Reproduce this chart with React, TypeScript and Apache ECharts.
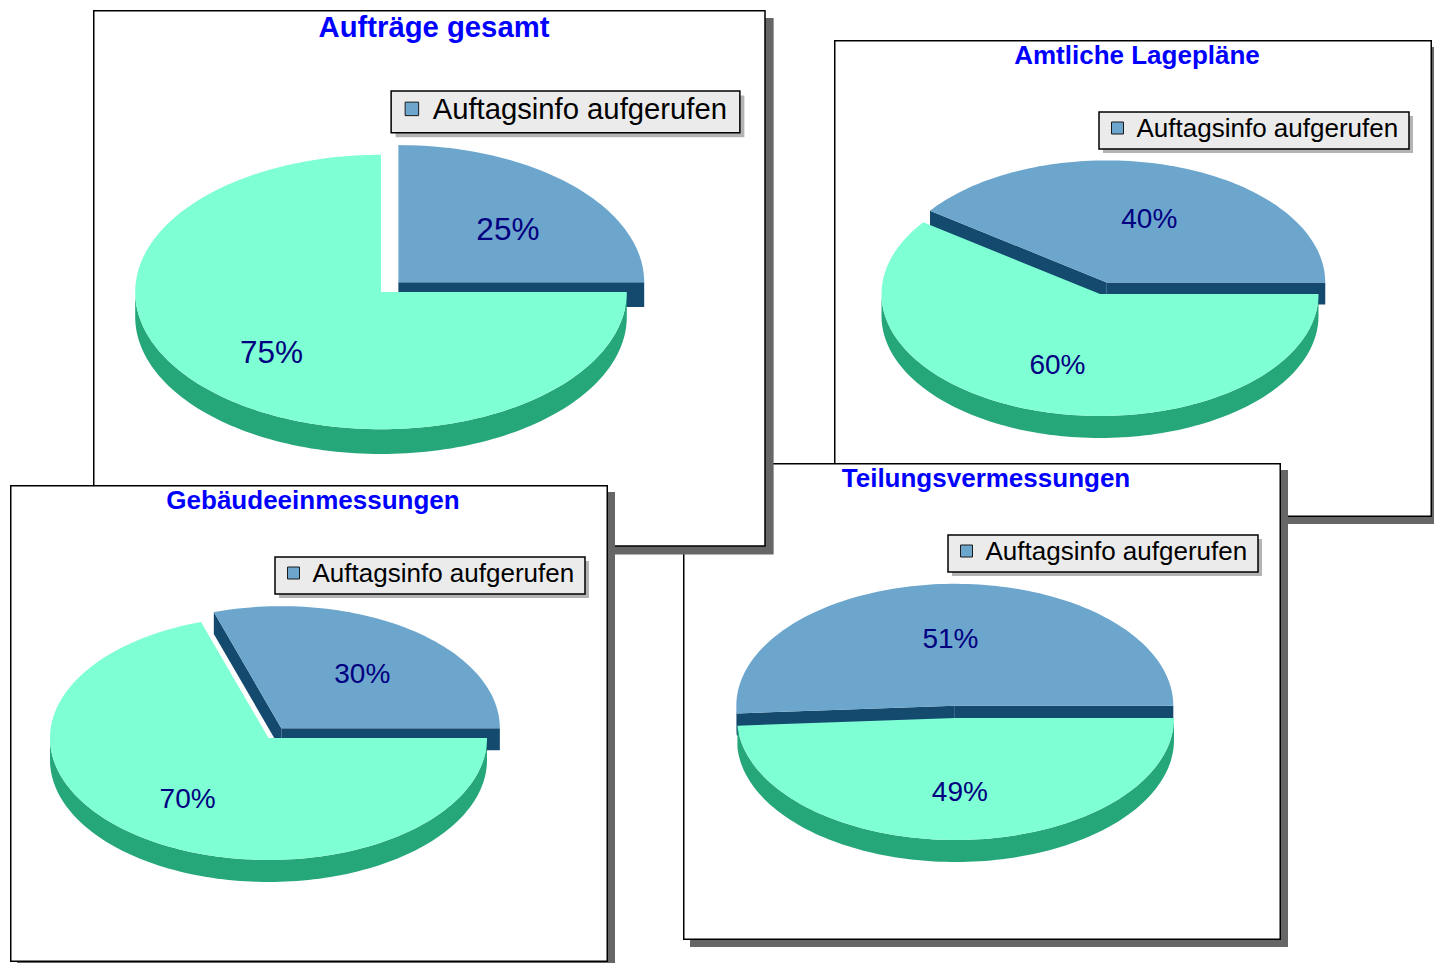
import React, { useEffect, useRef } from 'react';
import * as echarts from 'echarts';

// ---- data ----
const titles = ['Aufträge gesamt', 'Amtliche Lagepläne', 'Gebäudeeinmessungen', 'Teilungsvermessungen'];
const categories = ['Auftagsinfo aufgerufen', 'Auftagsinfo nicht aufgerufen'];
const legendLabel = 'Auftagsinfo aufgerufen';
const valuesGesamt = [25, 75];
const valuesLageplaene = [40, 60];
const valuesGebaeude = [30, 70];
const valuesTeilung = [51, 49];

// ---- styles / layout ----
const faceColors = ['#6CA6CD', '#7FFFD4'];
const sideColors = ['#154A6F', '#25A77A'];
const labelColor = '#000080';
const FONT = '"Liberation Sans", Arial, sans-serif';

type PanelCfg = {
  title: string;
  values: number[];
  left: number;
  top: number;
  scale: number;
  cx: number;
  cy: number;
};

// DOM order = stacking order (first at the back)
const panels: PanelCfg[] = [
  { title: titles[1], values: valuesLageplaene, left: 834, top: 40, scale: 1, cx: 266, cy: 254 },
  { title: titles[3], values: valuesTeilung, left: 683, top: 463, scale: 1, cx: 272.5, cy: 255 },
  { title: titles[0], values: valuesGesamt, left: 93, top: 10, scale: 1.125, cx: 256, cy: 250.7 },
  { title: titles[2], values: valuesGebaeude, left: 10, top: 485, scale: 1, cx: 258.5, cy: 253 },
];

const BASE_W = 598;
const BASE_H = 477;

function Panel({ cfg }: { cfg: PanelCfg }) {
  const ref = useRef<HTMLDivElement>(null);
  useEffect(() => {
    if (!ref.current) return;
    const s = cfg.scale;
    const chart = echarts.init(ref.current, null, { renderer: 'svg' });
    const W = BASE_W * s;
    const H = BASE_H * s;
    const values = cfg.values;
    const total = values.reduce((a, b) => a + b, 0);
    const rx = 218.5 * s;
    const ry = 122 * s;
    const depth = 22 * s;
    const explodeIndex = 0;
    const explode = 0.1;
    const kx = 0.63;
    const ky = 0.58;
    const toRad = (d: number) => (d * Math.PI) / 180;

    const renderItem = (params: any, api: any) => {
      const i = params.dataIndex;
      const v = api.value(0) as number;
      let start = 0;
      for (let j = 0; j < i; j++) start += values[j];
      const a0 = (start / total) * 360;
      const a1 = ((start + v) / total) * 360;
      const mid = toRad((a0 + a1) / 2);
      const e = i === explodeIndex ? explode : 0;
      const cx = cfg.cx * s + rx * e * Math.cos(mid);
      const cy = cfg.cy * s - ry * e * Math.sin(mid);
      const pt = (deg: number, dy = 0) => [
        cx + rx * Math.cos(toRad(deg)),
        cy - ry * Math.sin(toRad(deg)) + dy,
      ];
      const arc = (from: number, to: number, dy = 0) => {
        const n = Math.max(2, Math.ceil(Math.abs(to - from) / 1.5));
        const pts: number[][] = [];
        for (let k = 0; k <= n; k++) pts.push(pt(from + ((to - from) * k) / n, dy));
        return pts;
      };
      const children: any[] = [];
      // outer wall (front half only)
      const w0 = Math.max(a0, 180);
      const w1 = Math.min(a1, 360);
      if (w1 > w0) {
        children.push({
          type: 'polygon',
          shape: { points: [...arc(w0, w1), ...arc(w1, w0, depth)] },
          style: { fill: sideColors[i] },
        });
      }
      // radial cut faces that face the viewer
      const face = (deg: number) => ({
        type: 'polygon',
        shape: { points: [[cx, cy], pt(deg), pt(deg, depth), [cx, cy + depth]] },
        style: { fill: sideColors[i] },
      });
      if (Math.cos(toRad(a0)) > 1e-6) children.push(face(a0));
      if (Math.cos(toRad(a1)) < -1e-6) children.push(face(a1));
      // top face
      children.push({
        type: 'polygon',
        shape: { points: [[cx, cy], ...arc(a0, a1)] },
        style: { fill: faceColors[i] },
      });
      // label
      children.push({
        type: 'text',
        x: cx + rx * kx * Math.cos(mid),
        y: cy - ry * ky * Math.sin(mid) + 3 * s,
        style: {
          text: Math.round((v / total) * 100) + '%',
          fill: labelColor,
          fontSize: 28 * s,
          fontFamily: FONT,
          align: 'center',
          verticalAlign: 'middle',
        },
      });
      return { type: 'group', children };
    };

    chart.setOption({
      animation: false,
      title: {
        text: cfg.title,
        left: 'center',
        top: 2 * s,
        padding: 0,
        textStyle: { color: '#0000FF', fontSize: 26 * s, fontWeight: 'bold', fontFamily: FONT },
      },
      legend: {
        data: [
          {
            name: legendLabel,
            icon: 'rect',
            itemStyle: { color: faceColors[0], borderColor: '#1a1a1a', borderWidth: 1 },
          },
        ],
        left: 277 * s,
        top: 75 * s,
        padding: 0,
        itemWidth: 12 * s,
        itemHeight: 12 * s,
        selectedMode: false,
        textStyle: {
          fontSize: 26 * s,
          fontFamily: FONT,
          color: '#000',
          padding: [0, 0, 0, 8 * s],
        },
      },
      graphic: [
        { type: 'rect', shape: { x: 7 * s, y: 7 * s, width: W, height: H }, style: { fill: '#666666' } },
        {
          type: 'rect',
          shape: { x: 0.75, y: 0.75, width: W - 1.5, height: H - 1.5 },
          style: { fill: '#ffffff', stroke: '#000000', lineWidth: 1.5 },
        },
        {
          type: 'rect',
          shape: { x: 269 * s, y: 76 * s, width: 310 * s, height: 37 * s },
          style: { fill: '#b4b4b4' },
        },
        {
          type: 'rect',
          shape: { x: 265 * s, y: 72 * s, width: 310 * s, height: 37 * s },
          style: { fill: '#ebebeb', stroke: '#000000', lineWidth: 1.5 },
        },
      ],
      series: [
        {
          type: 'custom',
          name: legendLabel,
          coordinateSystem: 'none',
          silent: true,
          itemStyle: { color: faceColors[0] },
          renderItem,
          data: values.map((v, i) => ({ name: categories[i], value: [v] })),
        },
      ],
    });
    return () => chart.dispose();
  }, [cfg]);
  return (
    <div
      ref={ref}
      style={{
        position: 'absolute',
        left: cfg.left,
        top: cfg.top,
        width: (BASE_W + 8) * cfg.scale,
        height: (BASE_H + 8) * cfg.scale,
      }}
    />
  );
}

export default function App() {
  return (
    <div
      style={{
        position: 'fixed',
        left: 0,
        top: 0,
        width: 1434,
        height: 963,
        overflow: 'hidden',
        background: '#ffffff',
      }}
    >
      {panels.map((p, i) => (
        <Panel key={i} cfg={p} />
      ))}
    </div>
  );
}
